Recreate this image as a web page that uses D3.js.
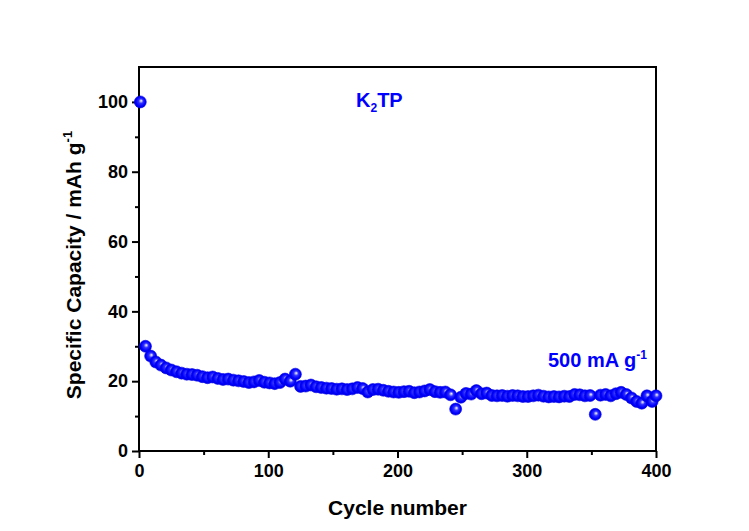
<!DOCTYPE html>
<html>
<head>
<meta charset="utf-8">
<script src="https://cdn.jsdelivr.net/npm/d3@7"></script>
<style>
  body { margin: 0; background: #fff; }
  svg text { font-family: "Liberation Sans", Arial, sans-serif; font-weight: bold; }
</style>
</head>
<body>
<script>
// cycle numbers of the plotted points
var cycles = [1, 5, 9, 13, 17, 21, 25, 29, 33, 37, 41, 45, 49, 53, 57, 61, 65, 69, 73, 77,
  81, 85, 89, 93, 97, 101, 105, 109, 113, 117, 121, 125, 129, 133, 137, 141, 145, 149, 153, 157,
  161, 165, 169, 173, 177, 181, 185, 189, 193, 197, 201, 205, 209, 213, 217, 221, 225, 229, 233, 237,
  241, 245, 249, 253, 257, 261, 265, 269, 273, 277, 281, 285, 289, 293, 297, 301, 305, 309, 313, 317,
  321, 325, 329, 333, 337, 341, 345, 349, 353, 357, 361, 365, 369, 373, 377, 381, 385, 389, 393, 397, 400];

// specific capacity (mAh/g)
var capacity = [100, 30.0, 27.2, 25.5, 24.6, 23.8, 23.2, 22.7, 22.3, 22.0, 21.9, 21.7, 21.3, 21.0, 21.2, 20.8, 20.5, 20.6, 20.3, 20.1,
  19.9, 19.6, 19.8, 20.2, 19.7, 19.5, 19.3, 19.6, 20.6, 20.0, 22.0, 18.5, 18.6, 18.9, 18.4, 18.2, 18.0, 17.9, 17.7, 17.8,
  17.6, 17.8, 18.2, 17.9, 16.9, 17.6, 17.7, 17.4, 17.1, 16.9, 16.8, 17.0, 17.1, 16.7, 16.9, 17.2, 17.6, 17.0, 16.8, 16.9,
  16.1, 12.0, 15.4, 16.5, 16.3, 17.3, 16.4, 16.6, 15.9, 15.8, 15.9, 15.7, 15.9, 15.8, 15.6, 15.6, 15.8, 16.0, 15.7, 15.5,
  15.6, 15.5, 15.7, 15.6, 16.2, 16.1, 15.8, 15.9, 10.5, 16.0, 16.2, 15.8, 16.4, 16.8, 16.2, 15.2, 14.2, 13.7, 15.8, 14.2, 15.8];

var xTicks = [0, 100, 200, 300, 400];
var xMinor = [50, 150, 250, 350];
var yTicks = [0, 20, 40, 60, 80, 100];
var yMinor = [10, 30, 50, 70, 90];

function drawChart() {
    var width = 749, height = 531;
    var mLeft = 139, mRight = 656, mTop = 67, mBottom = 451;

    var svg = d3.select("body").append("svg")
        .attr("width", width)
        .attr("height", height);

    var x = d3.scaleLinear().domain([0, 400]).range([mLeft, mRight]);
    var y = d3.scaleLinear().domain([0, 110]).range([mBottom, mTop]);

    // shaded ball marker
    var grad = svg.append("defs").append("radialGradient")
        .attr("id", "ball")
        .attr("cx", "50%").attr("cy", "50%").attr("r", "55%")
        .attr("fx", "58%").attr("fy", "40%");
    grad.append("stop").attr("offset", "0%").attr("stop-color", "#ffffff");
    grad.append("stop").attr("offset", "35%").attr("stop-color", "#3030ff");
    grad.append("stop").attr("offset", "70%").attr("stop-color", "#0000ff");
    grad.append("stop").attr("offset", "100%").attr("stop-color", "#0000d0");

    // minor ticks
    svg.append("g")
        .attr("transform", "translate(0," + mBottom + ")")
        .call(d3.axisBottom(x).tickValues(xMinor).tickSize(4).tickFormat(""))
        .call(function (g) { g.select(".domain").remove(); })
        .selectAll("line").attr("stroke-width", 2);
    svg.append("g")
        .attr("transform", "translate(" + mLeft + ",0)")
        .call(d3.axisLeft(y).tickValues(yMinor).tickSize(4).tickFormat(""))
        .call(function (g) { g.select(".domain").remove(); })
        .selectAll("line").attr("stroke-width", 2);

    // major ticks and labels
    var xAxis = svg.append("g")
        .attr("transform", "translate(0," + mBottom + ")")
        .call(d3.axisBottom(x).tickValues(xTicks).tickSize(7).tickSizeOuter(0).tickPadding(6));
    xAxis.select(".domain").remove();
    xAxis.selectAll("line").attr("stroke-width", 2);
    xAxis.selectAll("text").attr("font-size", 18).attr("fill", "#000");

    var yAxis = svg.append("g")
        .attr("transform", "translate(" + mLeft + ",0)")
        .call(d3.axisLeft(y).tickValues(yTicks).tickSize(7).tickSizeOuter(0).tickPadding(4));
    yAxis.select(".domain").remove();
    yAxis.selectAll("line").attr("stroke-width", 2);
    yAxis.selectAll("text").attr("font-size", 18).attr("fill", "#000");

    // frame
    svg.append("rect")
        .attr("x", mLeft).attr("y", mTop)
        .attr("width", mRight - mLeft).attr("height", mBottom - mTop)
        .attr("fill", "none").attr("stroke", "#000").attr("stroke-width", 2);

    // points
    svg.append("g").selectAll("circle")
        .data(cycles)
        .enter()
        .append("circle")
        .attr("cx", function (d) { return x(d); })
        .attr("cy", function (d, i) { return y(capacity[i]); })
        .attr("r", 6)
        .attr("fill", "url(#ball)")
        .attr("stroke", "#0000ee")
        .attr("stroke-width", 0.6);

    // axis titles
    svg.append("text")
        .attr("x", (mLeft + mRight) / 2 + 0).attr("y", 515)
        .attr("text-anchor", "middle")
        .attr("font-size", 21)
        .text("Cycle number");

    var yl = svg.append("text")
        .attr("transform", "translate(81," + ((mTop + mBottom) / 2 + 6) + ") rotate(-90)")
        .attr("text-anchor", "middle")
        .attr("font-size", 21);
    yl.append("tspan").text("Specific Capacity / mAh g");
    yl.append("tspan").attr("dy", -9).attr("font-size", 13).text("-1");

    // annotations
    var k = svg.append("text")
        .attr("x", 356).attr("y", 107)
        .attr("font-size", 20).attr("fill", "#0000ff");
    k.append("tspan").text("K");
    k.append("tspan").attr("dy", 5).attr("font-size", 12).text("2");
    k.append("tspan").attr("dy", -5).text("TP");

    var r = svg.append("text")
        .attr("x", 548).attr("y", 367)
        .attr("font-size", 20).attr("fill", "#0000ff");
    r.append("tspan").text("500 mA g");
    r.append("tspan").attr("dy", -8).attr("font-size", 12).text("-1");
}

drawChart();
</script>
</body>
</html>
